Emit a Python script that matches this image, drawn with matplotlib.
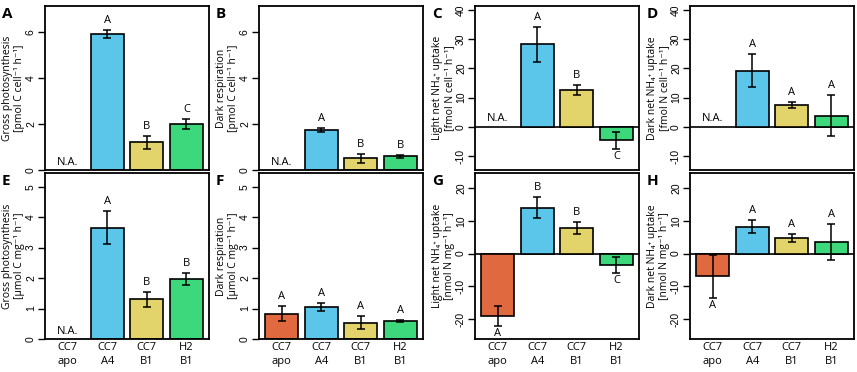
import numpy as np
import matplotlib
matplotlib.use('Agg')
import matplotlib.pyplot as plt

plt.rcParams['font.family'] = ['Open Sans', 'DejaVu Sans']

strains = ['CC7\napo', 'CC7\nA4', 'CC7\nB1', 'H2\nB1']
colors = ['#E0693F', '#5BC5EA', '#E3D36B', '#3DD87C']

# per-panel values (nan = not available), errors and significance letters
vals_A = [np.nan, 5.9, 1.2, 2.0]
err_A = [0, 0.18, 0.27, 0.2]
let_A = ['', 'A', 'B', 'C']

vals_B = [np.nan, 1.75, 0.5, 0.6]
err_B = [0, 0.08, 0.2, 0.06]
let_B = ['', 'A', 'B', 'B']

vals_C = [np.nan, 28.2, 12.5, -4.5]
err_C = [0, 5.9, 1.7, 2.9]
let_C = ['', 'A', 'B', 'C']

vals_D = [np.nan, 19.2, 7.5, 3.8]
err_D = [0, 5.7, 0.9, 7.0]
let_D = ['', 'A', 'A', 'A']

vals_E = [np.nan, 3.65, 1.3, 1.97]
err_E = [0, 0.54, 0.25, 0.2]
let_E = ['', 'A', 'B', 'B']

vals_F = [0.83, 1.06, 0.53, 0.58]
err_F = [0.25, 0.13, 0.21, 0.03]
let_F = ['A', 'A', 'A', 'A']

vals_G = [-19.0, 14.0, 7.8, -3.5]
err_G = [3.1, 3.2, 1.9, 2.3]
let_G = ['A', 'B', 'B', 'C']

vals_H = [-6.9, 8.2, 4.7, 3.5]
err_H = [6.6, 1.9, 1.3, 5.6]
let_H = ['A', 'A', 'A', 'A']

panels = [
    ('A', vals_A, err_A, let_A, 'Gross photosynthesis\n[pmol C cell⁻¹ h⁻¹]', (0, 7.12), [0, 2, 4, 6]),
    ('B', vals_B, err_B, let_B, 'Dark respiration\n[pmol C cell⁻¹ h⁻¹]', (0, 7.12), [0, 2, 4, 6]),
    ('C', vals_C, err_C, let_C, 'Light net NH₄⁺ uptake\n[fmol N cell⁻¹ h⁻¹]', (-14.7, 41.3), [-10, 0, 10, 20, 30, 40]),
    ('D', vals_D, err_D, let_D, 'Dark net NH₄⁺ uptake\n[fmol N cell⁻¹ h⁻¹]', (-14.7, 41.3), [-10, 0, 10, 20, 30, 40]),
    ('E', vals_E, err_E, let_E, 'Gross photosynthesis\n[µmol C mg⁻¹ h⁻¹]', (0, 5.45), [0, 1, 2, 3, 4, 5]),
    ('F', vals_F, err_F, let_F, 'Dark respiration\n[µmol C mg⁻¹ h⁻¹]', (0, 5.45), [0, 1, 2, 3, 4, 5]),
    ('G', vals_G, err_G, let_G, 'Light net NH₄⁺ uptake\n[nmol N mg⁻¹ h⁻¹]', (-26.1, 24.6), [-20, -10, 0, 10, 20]),
    ('H', vals_H, err_H, let_H, 'Dark net NH₄⁺ uptake\n[nmol N mg⁻¹ h⁻¹]', (-26.1, 24.6), [-20, -10, 0, 10, 20]),
]

W, H = 857, 372
fig = plt.figure(figsize=(W / 100, H / 100), dpi=100)

col_left = [45, 259, 475, 690]
row_top = [6, 173]
row_h = [164, 166]
ax_w = 164

x = np.arange(4) * 1.2

for i, (tag, vals, err, lets, ylab, ylim, yticks) in enumerate(panels):
    r, c = divmod(i, 4)
    ax = fig.add_axes([col_left[c] / W, 1 - (row_top[r] + row_h[r]) / H,
                       ax_w / W, row_h[r] / H])
    v = np.array(vals, dtype=float)
    e = np.array(err, dtype=float)
    ok = ~np.isnan(v)
    ax.bar(x[ok], v[ok], width=1.0, color=np.array(colors)[ok],
           edgecolor='black', linewidth=1.2, zorder=2)
    ax.errorbar(x[ok], v[ok], yerr=e[ok], fmt='none', ecolor='black',
                elinewidth=1.1, capsize=3, capthick=1.1, zorder=3)
    span = ylim[1] - ylim[0]
    for xi, vi, ei, li in zip(x, v, e, lets):
        if np.isnan(vi):
            ax.text(xi, 0.015 * span, 'N.A.', ha='center', va='bottom', fontsize=8)
            continue
        if vi >= 0:
            ax.text(xi, vi + ei + 0.025 * span, li, ha='center', va='bottom', fontsize=8)
        else:
            ax.text(xi, vi - ei - 0.012 * span, li, ha='center', va='top', fontsize=8)
    if ylim[0] < 0:
        ax.axhline(0, color='black', linewidth=1.2, zorder=1)
    ax.set_xlim(-0.684, x[-1] + 0.684)
    ax.set_ylim(*ylim)
    ax.set_yticks(yticks)
    ax.set_yticklabels([str(t) for t in yticks], rotation=90, va='center',
                       fontsize=7.5, family='Liberation Sans')
    ax.tick_params(axis='y', length=5, width=1, pad=1.5)
    # y label placed by hand, like R's mtext
    ax.text(-0.192, 0.5, ylab, transform=ax.transAxes, rotation=90,
            ha='center', va='center', fontsize=7.5, linespacing=1.1)
    for s in ax.spines.values():
        s.set_linewidth(1.3)
    if r == 1:
        ax.set_xticks(x)
        ax.set_xticklabels(strains, fontsize=8, linespacing=1.45)
        ax.tick_params(axis='x', length=0, pad=2)
    else:
        ax.set_xticks([])
    fig.text((col_left[c] - 43) / W, 1 - (row_top[r] + 1) / H, tag,
             fontsize=11, fontweight='bold', ha='left', va='top')

fig.savefig('out.png', dpi=100)
